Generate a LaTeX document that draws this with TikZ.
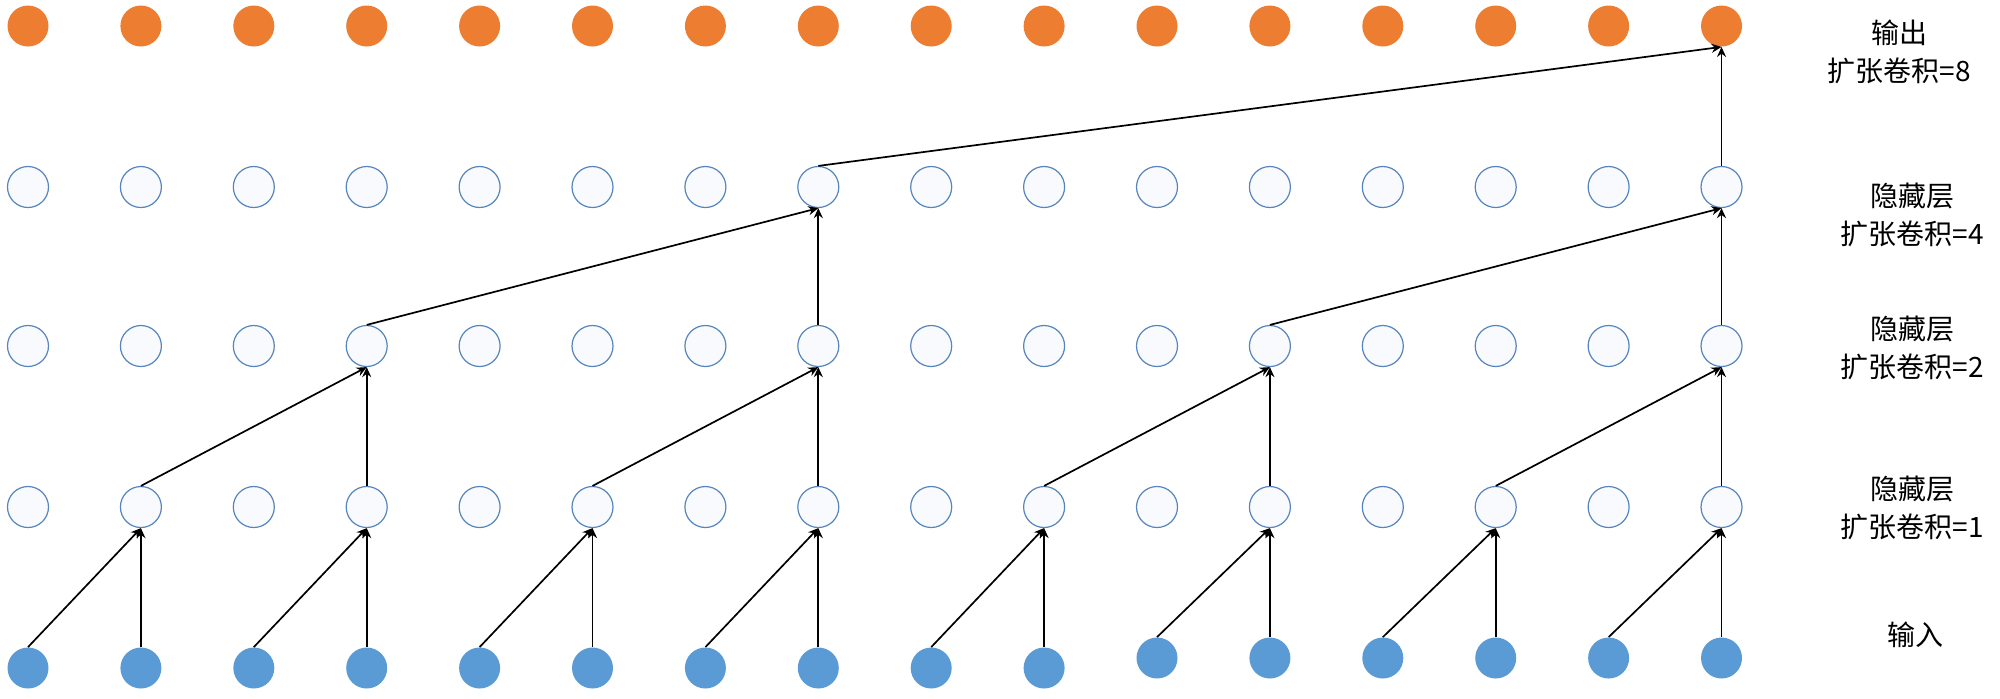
\documentclass[tikz,border=0pt]{standalone}
\usepackage{fontspec}
\newfontfamily\cjk{Noto Sans CJK SC}
\usetikzlibrary{arrows.meta}
\definecolor{orangec}{HTML}{ED7D31}
\definecolor{bluec}{HTML}{5B9BD5}
\definecolor{hidline}{HTML}{5585BC}
\definecolor{hidfill}{HTML}{F8FAFD}
\begin{document}
\begin{tikzpicture}[x=0.5pt,y=-0.5pt,
  outn/.style={circle,fill=orangec,minimum size=20.5pt,inner sep=0pt},
  inn/.style={circle,fill=bluec,minimum size=20.5pt,inner sep=0pt},
  hid/.style={circle,draw=hidline,fill=hidfill,line width=0.6pt,minimum size=20.5pt,inner sep=0pt},
  conn/.style={-{Stealth[length=5pt,width=4.5pt]},line width=0.85pt},
  lab/.style={font=\cjk\fontsize{14}{19}\selectfont,align=center,inner sep=0pt}]
\useasboundingbox (0,0) rectangle (2000,698);
\foreach \i in {0,...,15}{
  \pgfmathsetmacro{\xx}{28+112.9*\i}
  \node[outn] (o\i) at (\xx,26) {};
  \node[hid] (c\i) at (\xx,187) {};
  \node[hid] (b\i) at (\xx,346) {};
  \node[hid] (a\i) at (\xx,507) {};
  \ifnum\i<10
    \node[inn] (i\i) at (\xx,668) {};
  \else
    \node[inn] (i\i) at (\xx,658) {};
  \fi
}
% input -> dilation 1
\foreach \t in {1,3,...,15}{
  \pgfmathtruncatemacro{\s}{\t-1}
  \draw[conn] (i\s.north) -- (a\t.south);
  \draw[conn] (i\t.north) -- (a\t.south);
}
% dilation 1 -> dilation 2
\foreach \t in {3,7,11,15}{
  \pgfmathtruncatemacro{\s}{\t-2}
  \draw[conn] (a\s.north) -- (b\t.south);
  \draw[conn] (a\t.north) -- (b\t.south);
}
% dilation 2 -> dilation 4
\foreach \t in {7,15}{
  \pgfmathtruncatemacro{\s}{\t-4}
  \draw[conn] (b\s.north) -- (c\t.south);
  \draw[conn] (b\t.north) -- (c\t.south);
}
% dilation 4 -> output
\draw[conn] (c7.north) -- (o15.south);
\draw[conn] (c15.north) -- (o15.south);
% labels
\node[lab] (l8) at (1899,52) {输出\\扩张卷积=8};
\node[lab] (l4) at (1912,215) {隐藏层\\扩张卷积=4};
\node[lab] (l2) at (1912,348) {隐藏层\\扩张卷积=2};
\node[lab] (l1) at (1912,508) {隐藏层\\扩张卷积=1};
\node[lab] (l0) at (1915,635) {输入};
\end{tikzpicture}
\end{document}
